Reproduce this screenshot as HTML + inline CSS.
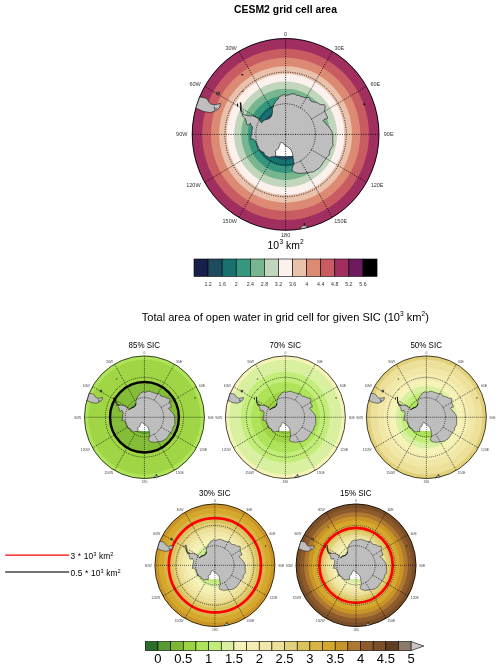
<!DOCTYPE html>
<html><head><meta charset="utf-8"><style>
html,body{margin:0;padding:0;background:#fff;width:500px;height:669px;overflow:hidden}
svg{position:absolute;left:0;top:0;will-change:transform}
svg text{font-family:"Liberation Sans",sans-serif}
</style></head><body>
<svg width="500" height="669" viewBox="0 0 500 669">
<rect width="500" height="669" fill="#fff"/>
<text transform="translate(285.50,13.30) scale(1,1.023)" font-size="10.4" text-anchor="middle" fill="#000" font-weight="bold">CESM2 grid cell area</text>
<clipPath id="ct"><ellipse cx="285.6" cy="134.4" rx="93.8" ry="96.3"/></clipPath>
<g clip-path="url(#ct)">
<ellipse cx="285.6" cy="134.4" rx="93.8" ry="96.3" fill="#6d1a5e"/>
<ellipse cx="285.6" cy="134.4" rx="92.98" ry="95.46" fill="#a02f60"/>
<ellipse cx="285.6" cy="134.4" rx="83.41" ry="85.63" fill="#c85c62"/>
<ellipse cx="285.6" cy="134.4" rx="74.64" ry="76.63" fill="#dc8a73"/>
<ellipse cx="285.6" cy="134.4" rx="66.48" ry="68.25" fill="#eac1ab"/>
<ellipse cx="285.6" cy="134.4" rx="58.80" ry="60.36" fill="#fcf1ed"/>
<ellipse cx="285.6" cy="134.4" rx="51.49" ry="52.87" fill="#c2d6bd"/>
<ellipse cx="285.6" cy="134.4" rx="44.50" ry="45.68" fill="#78b690"/>
<ellipse cx="285.6" cy="134.4" rx="37.74" ry="38.75" fill="#36977f"/>
<ellipse cx="285.6" cy="134.4" rx="31.18" ry="32.01" fill="#16716f"/>
<ellipse cx="285.6" cy="134.4" rx="24.77" ry="25.43" fill="#1f4b5e"/>
<ellipse cx="285.6" cy="134.4" rx="18.48" ry="18.98" fill="#17204a"/>

<polygon points="275.20,140.00 294.50,140.00 294.50,155.80 290.00,156.10 285.60,156.20 280.00,156.00 275.20,155.50" fill="#fff"/><g fill="#bebebe" stroke="#111" stroke-width="0.6" stroke-linejoin="round"><polygon points="242.40,114.00 244.50,114.80 246.40,115.40 247.95,115.47 249.40,116.00 250.90,115.89 252.40,115.70 254.80,116.60 257.20,117.80 258.38,118.82 259.40,120.00 260.60,121.60 261.60,123.00 262.80,121.20 264.80,120.00 267.40,119.20 268.74,118.68 270.00,118.00 271.60,116.00 272.20,113.60 272.46,112.11 272.50,110.60 272.41,108.74 273.10,107.00 273.80,104.80 275.00,102.80 275.44,101.36 276.60,100.40 278.20,99.20 278.60,97.60 279.80,96.40 281.80,95.60 283.80,94.40 285.40,95.60 287.00,95.20 289.09,94.89 291.00,94.00 292.50,93.78 294.00,94.00 295.48,94.24 296.66,95.36 298.20,95.40 299.61,95.84 300.90,96.62 302.40,96.80 303.91,97.28 305.40,97.80 307.02,97.72 308.60,97.40 309.60,98.44 309.96,99.86 310.80,101.00 312.31,101.77 314.00,101.90 315.79,102.37 317.60,102.80 319.04,103.89 320.70,104.60 322.50,104.75 324.30,104.60 325.13,106.04 325.20,107.70 324.72,109.47 324.70,111.30 325.23,112.67 326.06,113.89 326.50,115.30 327.36,116.79 327.40,118.50 325.60,118.90 324.07,119.53 322.90,120.70 324.70,122.00 325.87,123.59 327.00,125.20 327.98,126.25 329.20,127.00 329.82,128.54 331.00,129.70 331.53,131.14 332.40,132.40 332.16,133.90 332.76,135.32 332.80,136.80 332.53,138.60 332.85,140.40 332.80,142.20 332.71,143.92 333.40,145.50 332.18,146.54 331.50,148.00 330.00,150.00 329.50,152.00 329.61,153.56 329.00,155.00 327.50,156.50 326.00,158.00 325.53,159.42 324.50,160.50 323.00,162.50 322.00,164.50 320.50,166.50 319.43,167.93 318.00,169.00 316.27,169.65 315.00,171.00 313.52,171.55 312.00,172.00 309.99,172.14 308.00,172.50 306.02,172.93 304.00,173.00 302.50,173.24 301.00,173.50 299.48,173.35 298.00,173.00 296.48,172.88 295.00,172.50 293.79,171.68 292.50,171.00 292.00,169.00 292.57,167.52 293.00,166.00 294.00,163.50 293.50,161.00 293.61,159.44 293.00,158.00 293.00,156.00 292.50,154.00 292.16,152.45 291.50,151.00 290.55,149.25 289.00,148.00 287.67,146.82 286.00,146.20 284.20,144.60 283.51,143.29 282.20,142.60 281.00,142.30 280.20,143.60 279.60,145.40 278.86,146.84 278.40,148.40 277.37,149.45 276.00,150.00 275.20,151.60 275.90,153.20 275.30,155.40 275.20,156.80 273.80,156.80 272.20,156.40 270.60,157.20 268.60,157.20 266.60,156.00 264.60,154.80 263.80,152.40 261.80,151.60 259.80,150.40 257.80,149.60 258.20,147.60 257.00,145.20 256.20,142.80 255.40,140.80 253.80,139.60 252.60,138.80 250.20,139.20 250.91,137.89 251.00,136.40 251.40,134.00 252.01,132.45 251.80,130.80 252.60,128.40 252.20,126.40 251.00,125.20 250.30,123.20 249.40,124.40 248.20,125.00 247.00,124.70 246.40,123.80 246.56,122.35 246.00,121.00 245.50,119.00 244.54,117.96 243.50,117.00 242.20,115.20"/><polygon points="190.00,96.00 199.40,97.00 203.00,97.40 206.00,98.20 207.80,100.00 209.20,102.50 210.50,103.80 213.80,104.80 217.40,104.20 220.40,103.40 220.20,105.50 219.60,107.40 217.40,109.60 213.80,111.40 210.20,112.60 206.60,112.00 203.00,111.40 199.40,109.60 196.40,108.40 190.00,108.00"/><polygon points="216.60,92.60 218.30,92.00 219.60,92.60 219.40,94.30 217.60,95.00 216.50,94.20" fill="#666"/><polyline points="214.20,106.50 214.60,109.50 216.80,108.20" fill="none"/><polygon points="299.80,231.00 300.60,228.00 301.80,226.30 303.30,225.40 305.50,225.40 306.80,226.20 307.50,228.00 308.00,231.00"/></g><polyline points="240.50,103.00 240.90,106.00 240.70,109.00 241.20,111.00" fill="none" stroke="#111" stroke-width="1.50" stroke-linecap="round" stroke-linejoin="round"/><polyline points="304.30,222.90 304.30,225.30" fill="none" stroke="#111" stroke-width="1.10"/><circle cx="242.30" cy="112.40" r="1.10" fill="#bebebe" stroke="#111" stroke-width="0.6"/><ellipse cx="242.20" cy="74.70" rx="1.40" ry="0.60" fill="#111"/><ellipse cx="242.80" cy="91.20" rx="0.70" ry="0.60" fill="#111"/><ellipse cx="364.30" cy="104.20" rx="1.00" ry="1.00" fill="#111"/><ellipse cx="237.50" cy="105.00" rx="0.70" ry="1.80" fill="#111"/>
<g stroke="#000" stroke-width="0.85" stroke-dasharray="1 1.35" fill="none"><ellipse cx="285.6" cy="134.4" rx="29.81" ry="30.61" fill="none"/><ellipse cx="285.6" cy="134.4" rx="60.68" ry="62.30" fill="none"/><line x1="285.60" y1="134.40" x2="285.60" y2="38.10"/><line x1="300.51" y1="107.89" x2="332.50" y2="51.00"/><line x1="311.42" y1="119.10" x2="366.83" y2="86.25"/><line x1="285.60" y1="134.40" x2="379.40" y2="134.40"/><line x1="311.42" y1="149.70" x2="366.83" y2="182.55"/><line x1="300.51" y1="160.91" x2="332.50" y2="217.80"/><line x1="285.60" y1="134.40" x2="285.60" y2="230.70"/><line x1="270.69" y1="160.91" x2="238.70" y2="217.80"/><line x1="259.78" y1="149.70" x2="204.37" y2="182.55"/><line x1="285.60" y1="134.40" x2="191.80" y2="134.40"/><line x1="259.78" y1="119.10" x2="204.37" y2="86.25"/><line x1="270.69" y1="107.89" x2="238.70" y2="51.00"/></g>
</g>
<ellipse cx="285.6" cy="134.4" rx="93.40" ry="95.90" fill="none" stroke="#000" stroke-width="0.8"/>
<text transform="translate(285.60,36.20) scale(1,1.023)" font-size="5.5" text-anchor="middle" fill="#333">0</text><text transform="translate(334.40,49.80) scale(1,1.023)" font-size="5.5" text-anchor="start" fill="#333">30E</text><text transform="translate(370.43,86.45) scale(1,1.023)" font-size="5.5" text-anchor="start" fill="#333">60E</text><text transform="translate(383.80,136.41) scale(1,1.023)" font-size="5.5" text-anchor="start" fill="#333">90E</text><text transform="translate(370.63,186.88) scale(1,1.023)" font-size="5.5" text-anchor="start" fill="#333">120E</text><text transform="translate(334.30,222.83) scale(1,1.023)" font-size="5.5" text-anchor="start" fill="#333">150E</text><text transform="translate(285.60,237.13) scale(1,1.023)" font-size="5.5" text-anchor="middle" fill="#333">180</text><text transform="translate(236.90,222.83) scale(1,1.023)" font-size="5.5" text-anchor="end" fill="#333">150W</text><text transform="translate(200.57,186.88) scale(1,1.023)" font-size="5.5" text-anchor="end" fill="#333">120W</text><text transform="translate(187.40,136.41) scale(1,1.023)" font-size="5.5" text-anchor="end" fill="#333">90W</text><text transform="translate(200.77,86.45) scale(1,1.023)" font-size="5.5" text-anchor="end" fill="#333">60W</text><text transform="translate(236.80,49.80) scale(1,1.023)" font-size="5.5" text-anchor="end" fill="#333">30W</text>
<text transform="translate(285.60,248.80) scale(1,1.023)" font-size="10.4" text-anchor="middle" fill="#000">10<tspan font-size="6.6" dy="-4.8" dx="0.4">3</tspan><tspan dy="4.8"> km</tspan><tspan font-size="6.6" dy="-4.8">2</tspan></text>
<rect x="194.00" y="259.0" width="14.08" height="17.4" fill="#17204a" stroke="#000" stroke-width="0.6"/><rect x="208.08" y="259.0" width="14.08" height="17.4" fill="#1f4b5e" stroke="#000" stroke-width="0.6"/><rect x="222.16" y="259.0" width="14.08" height="17.4" fill="#16716f" stroke="#000" stroke-width="0.6"/><rect x="236.24" y="259.0" width="14.08" height="17.4" fill="#36977f" stroke="#000" stroke-width="0.6"/><rect x="250.32" y="259.0" width="14.08" height="17.4" fill="#78b690" stroke="#000" stroke-width="0.6"/><rect x="264.40" y="259.0" width="14.08" height="17.4" fill="#c2d6bd" stroke="#000" stroke-width="0.6"/><rect x="278.48" y="259.0" width="14.08" height="17.4" fill="#fcf1ed" stroke="#000" stroke-width="0.6"/><rect x="292.56" y="259.0" width="14.08" height="17.4" fill="#eac1ab" stroke="#000" stroke-width="0.6"/><rect x="306.64" y="259.0" width="14.08" height="17.4" fill="#dc8a73" stroke="#000" stroke-width="0.6"/><rect x="320.72" y="259.0" width="14.08" height="17.4" fill="#c85c62" stroke="#000" stroke-width="0.6"/><rect x="334.80" y="259.0" width="14.08" height="17.4" fill="#a02f60" stroke="#000" stroke-width="0.6"/><rect x="348.88" y="259.0" width="14.08" height="17.4" fill="#6d1a5e" stroke="#000" stroke-width="0.6"/><rect x="362.96" y="259.0" width="14.08" height="17.4" fill="#000000" stroke="#000" stroke-width="0.6"/><text transform="translate(208.08,285.60) scale(1,1.023)" font-size="5.3" text-anchor="middle" fill="#333">1.2</text><text transform="translate(222.16,285.60) scale(1,1.023)" font-size="5.3" text-anchor="middle" fill="#333">1.6</text><text transform="translate(236.24,285.60) scale(1,1.023)" font-size="5.3" text-anchor="middle" fill="#333">2</text><text transform="translate(250.32,285.60) scale(1,1.023)" font-size="5.3" text-anchor="middle" fill="#333">2.4</text><text transform="translate(264.40,285.60) scale(1,1.023)" font-size="5.3" text-anchor="middle" fill="#333">2.8</text><text transform="translate(278.48,285.60) scale(1,1.023)" font-size="5.3" text-anchor="middle" fill="#333">3.2</text><text transform="translate(292.56,285.60) scale(1,1.023)" font-size="5.3" text-anchor="middle" fill="#333">3.6</text><text transform="translate(306.64,285.60) scale(1,1.023)" font-size="5.3" text-anchor="middle" fill="#333">4</text><text transform="translate(320.72,285.60) scale(1,1.023)" font-size="5.3" text-anchor="middle" fill="#333">4.4</text><text transform="translate(334.80,285.60) scale(1,1.023)" font-size="5.3" text-anchor="middle" fill="#333">4.8</text><text transform="translate(348.88,285.60) scale(1,1.023)" font-size="5.3" text-anchor="middle" fill="#333">5.2</text><text transform="translate(362.96,285.60) scale(1,1.023)" font-size="5.3" text-anchor="middle" fill="#333">5.6</text>
<text transform="translate(285.30,321.20) scale(1,1.023)" font-size="11.1" text-anchor="middle" fill="#000">Total area of open water in grid cell for given SIC (10<tspan font-size="6.6" dy="-5.4">3</tspan><tspan dy="5.4"> km</tspan><tspan font-size="6.6" dy="-5.4">2</tspan><tspan dy="5.4">)</tspan></text>
<clipPath id="cs0"><ellipse cx="144.45" cy="417.25" rx="60.35" ry="61.7"/></clipPath>
<g clip-path="url(#cs0)">
<ellipse cx="144.45" cy="417.25" rx="60.35" ry="61.7" fill="#aee35a"/>
<ellipse cx="144.45" cy="417.25" rx="56.15" ry="57.41" fill="#a0d546"/>
<ellipse cx="144.45" cy="417.25" rx="34.41" ry="35.18" fill="#84bd38"/>
<ellipse cx="144.45" cy="417.25" rx="16.51" ry="16.88" fill="#569a31"/>
<ellipse cx="144.45" cy="417.25" rx="34.41" ry="35.18" fill="none" stroke="#000" stroke-width="2.4"/>
<polygon points="137.76,420.84 150.18,420.84 150.18,430.96 147.28,431.15 144.45,431.22 140.85,431.09 137.76,430.77" fill="#fff"/><g fill="#bebebe" stroke="#111" stroke-width="0.5" stroke-linejoin="round"><polygon points="116.66,404.18 118.01,404.69 119.23,405.08 120.22,405.12 121.16,405.46 122.13,405.39 123.09,405.27 124.63,405.85 126.18,406.61 126.94,407.27 127.59,408.02 128.37,409.05 129.01,409.95 129.78,408.79 131.07,408.02 132.74,407.51 133.60,407.18 134.41,406.74 135.44,405.46 135.83,403.92 136.00,402.97 136.02,402.00 135.97,400.81 136.41,399.69 136.86,398.29 137.63,397.00 137.91,396.08 138.66,395.47 139.69,394.70 139.95,393.67 140.72,392.90 142.01,392.39 143.29,391.62 144.32,392.39 145.35,392.13 146.69,391.94 147.92,391.37 148.89,391.23 149.85,391.37 150.80,391.52 151.57,392.23 152.56,392.26 153.46,392.55 154.30,393.04 155.26,393.16 156.23,393.47 157.19,393.80 158.23,393.75 159.25,393.54 159.89,394.21 160.12,395.12 160.66,395.85 161.64,396.34 162.72,396.43 163.88,396.73 165.04,397.00 165.97,397.70 167.03,398.16 168.19,398.26 169.35,398.16 169.88,399.08 169.93,400.14 169.62,401.28 169.61,402.45 169.94,403.33 170.48,404.11 170.76,405.01 171.32,405.96 171.34,407.06 170.19,407.32 169.20,407.72 168.45,408.47 169.61,409.31 170.36,410.32 171.09,411.36 171.71,412.03 172.50,412.51 172.90,413.49 173.66,414.24 174.00,415.16 174.56,415.97 174.40,416.93 174.79,417.84 174.82,418.79 174.64,419.94 174.85,421.09 174.82,422.25 174.76,423.35 175.20,424.36 174.42,425.03 173.98,425.96 173.02,427.25 172.69,428.53 172.76,429.53 172.37,430.45 171.41,431.41 170.44,432.37 170.14,433.28 169.48,433.97 168.51,435.25 167.87,436.54 166.90,437.82 166.22,438.73 165.30,439.42 164.18,439.84 163.37,440.70 162.41,441.06 161.44,441.34 160.14,441.43 158.86,441.66 157.59,441.93 156.29,441.98 155.32,442.14 154.36,442.30 153.38,442.21 152.43,441.98 151.45,441.91 150.50,441.66 149.72,441.14 148.89,440.70 148.57,439.42 148.94,438.47 149.21,437.50 149.85,435.89 149.53,434.29 149.60,433.29 149.21,432.37 149.21,431.09 148.89,429.81 148.67,428.81 148.25,427.89 147.63,426.77 146.64,425.96 145.78,425.21 144.71,424.81 143.55,423.79 143.11,422.94 142.26,422.50 141.49,422.31 140.98,423.14 140.59,424.30 140.11,425.22 139.82,426.22 139.15,426.89 138.27,427.25 137.76,428.27 138.21,429.30 137.82,430.70 137.76,431.60 136.86,431.60 135.83,431.35 134.80,431.86 133.51,431.86 132.23,431.09 130.94,430.32 130.42,428.78 129.14,428.27 127.85,427.50 126.56,426.99 126.82,425.71 126.05,424.17 125.53,422.63 125.02,421.35 123.99,420.58 123.22,420.07 121.67,420.33 122.13,419.49 122.19,418.53 122.45,416.99 122.84,416.00 122.70,414.94 123.22,413.41 122.96,412.12 122.19,411.36 121.74,410.07 121.16,410.84 120.39,411.23 119.62,411.04 119.23,410.46 119.33,409.53 118.97,408.66 118.65,407.38 118.03,406.71 117.36,406.10 116.53,404.95"/><polygon points="82.94,392.65 88.99,393.29 91.31,393.54 93.24,394.06 94.39,395.21 95.29,396.81 96.13,397.64 98.25,398.29 100.57,397.90 102.50,397.39 102.37,398.73 101.99,399.95 100.57,401.36 98.25,402.51 95.94,403.28 93.62,402.90 91.31,402.51 88.99,401.36 87.06,400.59 82.94,400.34"/><polygon points="100.06,390.47 101.15,390.08 101.99,390.47 101.86,391.56 100.70,392.01 99.99,391.49" fill="#666"/><polyline points="98.51,399.37 98.77,401.30 100.18,400.46" fill="none"/><polygon points="153.59,479.14 154.10,477.22 154.87,476.13 155.84,475.55 157.25,475.55 158.09,476.07 158.54,477.22 158.86,479.14"/></g><polyline points="115.43,397.13 115.69,399.05 115.56,400.98 115.88,402.26" fill="none" stroke="#111" stroke-width="0.97" stroke-linecap="round" stroke-linejoin="round"/><polyline points="156.48,473.95 156.48,475.49" fill="none" stroke="#111" stroke-width="0.71"/><polyline points="129.27,409.56 131.07,408.15 132.74,407.64 134.41,406.87 135.44,405.59 135.83,404.05" fill="none" stroke="#111" stroke-width="1.0" stroke-linecap="round" stroke-linejoin="round"/><polyline points="115.88,402.26 116.66,403.92 117.81,404.95 119.29,405.33" fill="none" stroke="#111" stroke-width="0.9" stroke-linecap="round" stroke-linejoin="round"/><circle cx="116.59" cy="403.15" r="0.71" fill="#bebebe" stroke="#111" stroke-width="0.5"/><ellipse cx="116.53" cy="379.00" rx="0.90" ry="0.45" fill="#111"/><ellipse cx="116.91" cy="389.57" rx="0.45" ry="0.45" fill="#111"/><ellipse cx="195.08" cy="397.90" rx="0.64" ry="0.64" fill="#111"/><ellipse cx="113.50" cy="398.41" rx="0.45" ry="1.15" fill="#111"/>
<g stroke="#000" stroke-width="0.7" stroke-dasharray="0.9 1.1" fill="none"><ellipse cx="144.45" cy="417.25" rx="19.18" ry="19.61" fill="none"/><ellipse cx="144.45" cy="417.25" rx="39.04" ry="39.91" fill="none"/><line x1="144.45" y1="417.25" x2="144.45" y2="355.55"/><line x1="154.04" y1="400.27" x2="174.62" y2="363.82"/><line x1="161.06" y1="407.44" x2="196.71" y2="386.40"/><line x1="144.45" y1="417.25" x2="204.80" y2="417.25"/><line x1="161.06" y1="427.06" x2="196.71" y2="448.10"/><line x1="154.04" y1="434.23" x2="174.62" y2="470.68"/><line x1="144.45" y1="417.25" x2="144.45" y2="478.95"/><line x1="134.86" y1="434.23" x2="114.27" y2="470.68"/><line x1="127.84" y1="427.06" x2="92.19" y2="448.10"/><line x1="144.45" y1="417.25" x2="84.10" y2="417.25"/><line x1="127.84" y1="407.44" x2="92.19" y2="386.40"/><line x1="134.86" y1="400.27" x2="114.27" y2="363.82"/></g>
</g>
<ellipse cx="144.45" cy="417.25" rx="60.00" ry="61.35" fill="none" stroke="#000" stroke-width="0.7"/>
<text transform="translate(144.45,354.30) scale(1,1.023)" font-size="3.4" text-anchor="middle" fill="#444">0</text><text transform="translate(175.88,363.02) scale(1,1.023)" font-size="3.4" text-anchor="start" fill="#444">30E</text><text transform="translate(199.09,386.53) scale(1,1.023)" font-size="3.4" text-anchor="start" fill="#444">60E</text><text transform="translate(207.70,418.50) scale(1,1.023)" font-size="3.4" text-anchor="start" fill="#444">90E</text><text transform="translate(199.22,450.79) scale(1,1.023)" font-size="3.4" text-anchor="start" fill="#444">120E</text><text transform="translate(175.81,473.83) scale(1,1.023)" font-size="3.4" text-anchor="start" fill="#444">150E</text><text transform="translate(144.45,483.02) scale(1,1.023)" font-size="3.4" text-anchor="middle" fill="#444">180</text><text transform="translate(113.09,473.83) scale(1,1.023)" font-size="3.4" text-anchor="end" fill="#444">150W</text><text transform="translate(89.68,450.79) scale(1,1.023)" font-size="3.4" text-anchor="end" fill="#444">120W</text><text transform="translate(81.20,418.50) scale(1,1.023)" font-size="3.4" text-anchor="end" fill="#444">90W</text><text transform="translate(89.81,386.53) scale(1,1.023)" font-size="3.4" text-anchor="end" fill="#444">60W</text><text transform="translate(113.02,363.02) scale(1,1.023)" font-size="3.4" text-anchor="end" fill="#444">30W</text>
<text transform="translate(144.25,347.75) scale(1,1.023)" font-size="8.0" text-anchor="middle" fill="#000">85% SIC</text>
<clipPath id="cs1"><ellipse cx="285.4" cy="417.25" rx="60.35" ry="61.7"/></clipPath>
<g clip-path="url(#cs1)">
<ellipse cx="285.4" cy="417.25" rx="60.35" ry="61.7" fill="#f6f3b8"/>
<ellipse cx="285.4" cy="417.25" rx="56.15" ry="57.41" fill="#d8f0a0"/>
<ellipse cx="285.4" cy="417.25" rx="44.55" ry="45.55" fill="#c1ed78"/>
<ellipse cx="285.4" cy="417.25" rx="34.41" ry="35.18" fill="#aee35a"/>
<ellipse cx="285.4" cy="417.25" rx="25.18" ry="25.74" fill="#a0d546"/>
<ellipse cx="285.4" cy="417.25" rx="16.51" ry="16.88" fill="#84bd38"/>
<ellipse cx="285.4" cy="417.25" rx="8.17" ry="8.36" fill="#569a31"/>

<polygon points="278.71,420.84 291.13,420.84 291.13,430.96 288.23,431.15 285.40,431.22 281.80,431.09 278.71,430.77" fill="#fff"/><g fill="#bebebe" stroke="#111" stroke-width="0.5" stroke-linejoin="round"><polygon points="257.61,404.18 258.96,404.69 260.18,405.08 261.17,405.12 262.11,405.46 263.08,405.39 264.04,405.27 265.58,405.85 267.13,406.61 267.89,407.27 268.54,408.02 269.32,409.05 269.96,409.95 270.73,408.79 272.02,408.02 273.69,407.51 274.55,407.18 275.36,406.74 276.39,405.46 276.78,403.92 276.95,402.97 276.97,402.00 276.92,400.81 277.36,399.69 277.81,398.29 278.58,397.00 278.86,396.08 279.61,395.47 280.64,394.70 280.90,393.67 281.67,392.90 282.96,392.39 284.24,391.62 285.27,392.39 286.30,392.13 287.64,391.94 288.87,391.37 289.84,391.23 290.80,391.37 291.75,391.52 292.52,392.23 293.51,392.26 294.41,392.55 295.25,393.04 296.21,393.16 297.18,393.47 298.14,393.80 299.18,393.75 300.20,393.54 300.84,394.21 301.07,395.12 301.61,395.85 302.59,396.34 303.67,396.43 304.83,396.73 305.99,397.00 306.92,397.70 307.98,398.16 309.14,398.26 310.30,398.16 310.83,399.08 310.88,400.14 310.57,401.28 310.56,402.45 310.89,403.33 311.43,404.11 311.71,405.01 312.27,405.96 312.29,407.06 311.14,407.32 310.15,407.72 309.40,408.47 310.56,409.31 311.31,410.32 312.04,411.36 312.66,412.03 313.45,412.51 313.85,413.49 314.61,414.24 314.95,415.16 315.51,415.97 315.35,416.93 315.74,417.84 315.77,418.79 315.59,419.94 315.80,421.09 315.77,422.25 315.71,423.35 316.15,424.36 315.37,425.03 314.93,425.96 313.97,427.25 313.64,428.53 313.71,429.53 313.32,430.45 312.36,431.41 311.39,432.37 311.09,433.28 310.43,433.97 309.46,435.25 308.82,436.54 307.85,437.82 307.17,438.73 306.25,439.42 305.13,439.84 304.32,440.70 303.36,441.06 302.39,441.34 301.09,441.43 299.81,441.66 298.54,441.93 297.24,441.98 296.27,442.14 295.31,442.30 294.33,442.21 293.38,441.98 292.40,441.91 291.45,441.66 290.67,441.14 289.84,440.70 289.52,439.42 289.89,438.47 290.16,437.50 290.80,435.89 290.48,434.29 290.55,433.29 290.16,432.37 290.16,431.09 289.84,429.81 289.62,428.81 289.20,427.89 288.58,426.77 287.59,425.96 286.73,425.21 285.66,424.81 284.50,423.79 284.06,422.94 283.21,422.50 282.44,422.31 281.93,423.14 281.54,424.30 281.06,425.22 280.77,426.22 280.10,426.89 279.22,427.25 278.71,428.27 279.16,429.30 278.77,430.70 278.71,431.60 277.81,431.60 276.78,431.35 275.75,431.86 274.46,431.86 273.18,431.09 271.89,430.32 271.37,428.78 270.09,428.27 268.80,427.50 267.51,426.99 267.77,425.71 267.00,424.17 266.48,422.63 265.97,421.35 264.94,420.58 264.17,420.07 262.62,420.33 263.08,419.49 263.14,418.53 263.40,416.99 263.79,416.00 263.65,414.94 264.17,413.41 263.91,412.12 263.14,411.36 262.69,410.07 262.11,410.84 261.34,411.23 260.57,411.04 260.18,410.46 260.28,409.53 259.92,408.66 259.60,407.38 258.98,406.71 258.31,406.10 257.48,404.95"/><polygon points="223.89,392.65 229.94,393.29 232.26,393.54 234.19,394.06 235.34,395.21 236.24,396.81 237.08,397.64 239.20,398.29 241.52,397.90 243.45,397.39 243.32,398.73 242.94,399.95 241.52,401.36 239.20,402.51 236.89,403.28 234.57,402.90 232.26,402.51 229.94,401.36 228.01,400.59 223.89,400.34"/><polygon points="241.01,390.47 242.10,390.08 242.94,390.47 242.81,391.56 241.65,392.01 240.94,391.49" fill="#666"/><polyline points="239.46,399.37 239.72,401.30 241.13,400.46" fill="none"/><polygon points="294.54,479.14 295.05,477.22 295.82,476.13 296.79,475.55 298.20,475.55 299.04,476.07 299.49,477.22 299.81,479.14"/></g><polyline points="256.38,397.13 256.64,399.05 256.51,400.98 256.83,402.26" fill="none" stroke="#111" stroke-width="0.97" stroke-linecap="round" stroke-linejoin="round"/><polyline points="297.43,473.95 297.43,475.49" fill="none" stroke="#111" stroke-width="0.71"/><polyline points="270.22,409.56 272.02,408.15 273.69,407.64 275.36,406.87 276.39,405.59 276.78,404.05" fill="none" stroke="#111" stroke-width="1.0" stroke-linecap="round" stroke-linejoin="round"/><polyline points="256.83,402.26 257.61,403.92 258.76,404.95 260.24,405.33" fill="none" stroke="#111" stroke-width="0.9" stroke-linecap="round" stroke-linejoin="round"/><circle cx="257.54" cy="403.15" r="0.71" fill="#bebebe" stroke="#111" stroke-width="0.5"/><ellipse cx="257.48" cy="379.00" rx="0.90" ry="0.45" fill="#111"/><ellipse cx="257.86" cy="389.57" rx="0.45" ry="0.45" fill="#111"/><ellipse cx="336.03" cy="397.90" rx="0.64" ry="0.64" fill="#111"/><ellipse cx="254.45" cy="398.41" rx="0.45" ry="1.15" fill="#111"/>
<g stroke="#000" stroke-width="0.7" stroke-dasharray="0.9 1.1" fill="none"><ellipse cx="285.4" cy="417.25" rx="19.18" ry="19.61" fill="none"/><ellipse cx="285.4" cy="417.25" rx="39.04" ry="39.91" fill="none"/><line x1="285.40" y1="417.25" x2="285.40" y2="355.55"/><line x1="294.99" y1="400.27" x2="315.57" y2="363.82"/><line x1="302.01" y1="407.44" x2="337.66" y2="386.40"/><line x1="285.40" y1="417.25" x2="345.75" y2="417.25"/><line x1="302.01" y1="427.06" x2="337.66" y2="448.10"/><line x1="294.99" y1="434.23" x2="315.57" y2="470.68"/><line x1="285.40" y1="417.25" x2="285.40" y2="478.95"/><line x1="275.81" y1="434.23" x2="255.22" y2="470.68"/><line x1="268.79" y1="427.06" x2="233.14" y2="448.10"/><line x1="285.40" y1="417.25" x2="225.05" y2="417.25"/><line x1="268.79" y1="407.44" x2="233.14" y2="386.40"/><line x1="275.81" y1="400.27" x2="255.22" y2="363.82"/></g>
</g>
<ellipse cx="285.4" cy="417.25" rx="60.00" ry="61.35" fill="none" stroke="#000" stroke-width="0.7"/>
<text transform="translate(285.40,354.30) scale(1,1.023)" font-size="3.4" text-anchor="middle" fill="#444">0</text><text transform="translate(316.83,363.02) scale(1,1.023)" font-size="3.4" text-anchor="start" fill="#444">30E</text><text transform="translate(340.04,386.53) scale(1,1.023)" font-size="3.4" text-anchor="start" fill="#444">60E</text><text transform="translate(348.65,418.50) scale(1,1.023)" font-size="3.4" text-anchor="start" fill="#444">90E</text><text transform="translate(340.17,450.79) scale(1,1.023)" font-size="3.4" text-anchor="start" fill="#444">120E</text><text transform="translate(316.76,473.83) scale(1,1.023)" font-size="3.4" text-anchor="start" fill="#444">150E</text><text transform="translate(285.40,483.02) scale(1,1.023)" font-size="3.4" text-anchor="middle" fill="#444">180</text><text transform="translate(254.04,473.83) scale(1,1.023)" font-size="3.4" text-anchor="end" fill="#444">150W</text><text transform="translate(230.63,450.79) scale(1,1.023)" font-size="3.4" text-anchor="end" fill="#444">120W</text><text transform="translate(222.15,418.50) scale(1,1.023)" font-size="3.4" text-anchor="end" fill="#444">90W</text><text transform="translate(230.76,386.53) scale(1,1.023)" font-size="3.4" text-anchor="end" fill="#444">60W</text><text transform="translate(253.97,363.02) scale(1,1.023)" font-size="3.4" text-anchor="end" fill="#444">30W</text>
<text transform="translate(285.20,347.75) scale(1,1.023)" font-size="8.0" text-anchor="middle" fill="#000">70% SIC</text>
<clipPath id="cs2"><ellipse cx="426.35" cy="417.25" rx="60.35" ry="61.7"/></clipPath>
<g clip-path="url(#cs2)">
<ellipse cx="426.35" cy="417.25" rx="60.35" ry="61.7" fill="#e2d07a"/>
<ellipse cx="426.35" cy="417.25" rx="56.15" ry="57.41" fill="#ece09a"/>
<ellipse cx="426.35" cy="417.25" rx="48.97" ry="50.07" fill="#f1e7a6"/>
<ellipse cx="426.35" cy="417.25" rx="42.43" ry="43.38" fill="#f5eeb3"/>
<ellipse cx="426.35" cy="417.25" rx="36.36" ry="37.17" fill="#f6f3b8"/>
<ellipse cx="426.35" cy="417.25" rx="30.63" ry="31.32" fill="#d8f0a0"/>
<ellipse cx="426.35" cy="417.25" rx="25.18" ry="25.74" fill="#c1ed78"/>
<ellipse cx="426.35" cy="417.25" rx="19.92" ry="20.37" fill="#aee35a"/>
<ellipse cx="426.35" cy="417.25" rx="14.82" ry="15.15" fill="#a0d546"/>
<ellipse cx="426.35" cy="417.25" rx="9.82" ry="10.04" fill="#84bd38"/>
<ellipse cx="426.35" cy="417.25" rx="4.89" ry="5.00" fill="#569a31"/>

<polygon points="419.66,420.84 432.08,420.84 432.08,430.96 429.18,431.15 426.35,431.22 422.75,431.09 419.66,430.77" fill="#fff"/><g fill="#bebebe" stroke="#111" stroke-width="0.5" stroke-linejoin="round"><polygon points="398.56,404.18 399.91,404.69 401.13,405.08 402.12,405.12 403.06,405.46 404.03,405.39 404.99,405.27 406.53,405.85 408.08,406.61 408.84,407.27 409.49,408.02 410.27,409.05 410.91,409.95 411.68,408.79 412.97,408.02 414.64,407.51 415.50,407.18 416.31,406.74 417.34,405.46 417.73,403.92 417.90,402.97 417.92,402.00 417.87,400.81 418.31,399.69 418.76,398.29 419.53,397.00 419.81,396.08 420.56,395.47 421.59,394.70 421.85,393.67 422.62,392.90 423.91,392.39 425.19,391.62 426.22,392.39 427.25,392.13 428.59,391.94 429.82,391.37 430.79,391.23 431.75,391.37 432.70,391.52 433.47,392.23 434.46,392.26 435.36,392.55 436.20,393.04 437.16,393.16 438.13,393.47 439.09,393.80 440.13,393.75 441.15,393.54 441.79,394.21 442.02,395.12 442.56,395.85 443.54,396.34 444.62,396.43 445.78,396.73 446.94,397.00 447.87,397.70 448.93,398.16 450.09,398.26 451.25,398.16 451.78,399.08 451.83,400.14 451.52,401.28 451.51,402.45 451.84,403.33 452.38,404.11 452.66,405.01 453.22,405.96 453.24,407.06 452.09,407.32 451.10,407.72 450.35,408.47 451.51,409.31 452.26,410.32 452.99,411.36 453.61,412.03 454.40,412.51 454.80,413.49 455.56,414.24 455.90,415.16 456.46,415.97 456.30,416.93 456.69,417.84 456.72,418.79 456.54,419.94 456.75,421.09 456.72,422.25 456.66,423.35 457.10,424.36 456.32,425.03 455.88,425.96 454.92,427.25 454.59,428.53 454.66,429.53 454.27,430.45 453.31,431.41 452.34,432.37 452.04,433.28 451.38,433.97 450.41,435.25 449.77,436.54 448.80,437.82 448.12,438.73 447.20,439.42 446.08,439.84 445.27,440.70 444.31,441.06 443.34,441.34 442.04,441.43 440.76,441.66 439.49,441.93 438.19,441.98 437.22,442.14 436.26,442.30 435.28,442.21 434.33,441.98 433.35,441.91 432.40,441.66 431.62,441.14 430.79,440.70 430.47,439.42 430.84,438.47 431.11,437.50 431.75,435.89 431.43,434.29 431.50,433.29 431.11,432.37 431.11,431.09 430.79,429.81 430.57,428.81 430.15,427.89 429.53,426.77 428.54,425.96 427.68,425.21 426.61,424.81 425.45,423.79 425.01,422.94 424.16,422.50 423.39,422.31 422.88,423.14 422.49,424.30 422.01,425.22 421.72,426.22 421.05,426.89 420.17,427.25 419.66,428.27 420.11,429.30 419.72,430.70 419.66,431.60 418.76,431.60 417.73,431.35 416.70,431.86 415.41,431.86 414.13,431.09 412.84,430.32 412.32,428.78 411.04,428.27 409.75,427.50 408.46,426.99 408.72,425.71 407.95,424.17 407.43,422.63 406.92,421.35 405.89,420.58 405.12,420.07 403.57,420.33 404.03,419.49 404.09,418.53 404.35,416.99 404.74,416.00 404.60,414.94 405.12,413.41 404.86,412.12 404.09,411.36 403.64,410.07 403.06,410.84 402.29,411.23 401.52,411.04 401.13,410.46 401.23,409.53 400.87,408.66 400.55,407.38 399.93,406.71 399.26,406.10 398.43,404.95"/><polygon points="364.84,392.65 370.89,393.29 373.21,393.54 375.14,394.06 376.29,395.21 377.19,396.81 378.03,397.64 380.15,398.29 382.47,397.90 384.40,397.39 384.27,398.73 383.89,399.95 382.47,401.36 380.15,402.51 377.84,403.28 375.52,402.90 373.21,402.51 370.89,401.36 368.96,400.59 364.84,400.34"/><polygon points="381.96,390.47 383.05,390.08 383.89,390.47 383.76,391.56 382.60,392.01 381.89,391.49" fill="#666"/><polyline points="380.41,399.37 380.67,401.30 382.08,400.46" fill="none"/><polygon points="435.49,479.14 436.00,477.22 436.77,476.13 437.74,475.55 439.15,475.55 439.99,476.07 440.44,477.22 440.76,479.14"/></g><polyline points="397.33,397.13 397.59,399.05 397.46,400.98 397.78,402.26" fill="none" stroke="#111" stroke-width="0.97" stroke-linecap="round" stroke-linejoin="round"/><polyline points="438.38,473.95 438.38,475.49" fill="none" stroke="#111" stroke-width="0.71"/><polyline points="411.17,409.56 412.97,408.15 414.64,407.64 416.31,406.87 417.34,405.59 417.73,404.05" fill="none" stroke="#111" stroke-width="1.0" stroke-linecap="round" stroke-linejoin="round"/><polyline points="397.78,402.26 398.56,403.92 399.71,404.95 401.19,405.33" fill="none" stroke="#111" stroke-width="0.9" stroke-linecap="round" stroke-linejoin="round"/><circle cx="398.49" cy="403.15" r="0.71" fill="#bebebe" stroke="#111" stroke-width="0.5"/><ellipse cx="398.43" cy="379.00" rx="0.90" ry="0.45" fill="#111"/><ellipse cx="398.81" cy="389.57" rx="0.45" ry="0.45" fill="#111"/><ellipse cx="476.98" cy="397.90" rx="0.64" ry="0.64" fill="#111"/><ellipse cx="395.40" cy="398.41" rx="0.45" ry="1.15" fill="#111"/>
<g stroke="#000" stroke-width="0.7" stroke-dasharray="0.9 1.1" fill="none"><ellipse cx="426.35" cy="417.25" rx="19.18" ry="19.61" fill="none"/><ellipse cx="426.35" cy="417.25" rx="39.04" ry="39.91" fill="none"/><line x1="426.35" y1="417.25" x2="426.35" y2="355.55"/><line x1="435.94" y1="400.27" x2="456.53" y2="363.82"/><line x1="442.96" y1="407.44" x2="478.61" y2="386.40"/><line x1="426.35" y1="417.25" x2="486.70" y2="417.25"/><line x1="442.96" y1="427.06" x2="478.61" y2="448.10"/><line x1="435.94" y1="434.23" x2="456.53" y2="470.68"/><line x1="426.35" y1="417.25" x2="426.35" y2="478.95"/><line x1="416.76" y1="434.23" x2="396.18" y2="470.68"/><line x1="409.74" y1="427.06" x2="374.09" y2="448.10"/><line x1="426.35" y1="417.25" x2="366.00" y2="417.25"/><line x1="409.74" y1="407.44" x2="374.09" y2="386.40"/><line x1="416.76" y1="400.27" x2="396.18" y2="363.82"/></g>
</g>
<ellipse cx="426.35" cy="417.25" rx="60.00" ry="61.35" fill="none" stroke="#000" stroke-width="0.7"/>
<text transform="translate(426.35,354.30) scale(1,1.023)" font-size="3.4" text-anchor="middle" fill="#444">0</text><text transform="translate(457.78,363.02) scale(1,1.023)" font-size="3.4" text-anchor="start" fill="#444">30E</text><text transform="translate(480.99,386.53) scale(1,1.023)" font-size="3.4" text-anchor="start" fill="#444">60E</text><text transform="translate(489.60,418.50) scale(1,1.023)" font-size="3.4" text-anchor="start" fill="#444">90E</text><text transform="translate(481.12,450.79) scale(1,1.023)" font-size="3.4" text-anchor="start" fill="#444">120E</text><text transform="translate(457.71,473.83) scale(1,1.023)" font-size="3.4" text-anchor="start" fill="#444">150E</text><text transform="translate(426.35,483.02) scale(1,1.023)" font-size="3.4" text-anchor="middle" fill="#444">180</text><text transform="translate(394.99,473.83) scale(1,1.023)" font-size="3.4" text-anchor="end" fill="#444">150W</text><text transform="translate(371.58,450.79) scale(1,1.023)" font-size="3.4" text-anchor="end" fill="#444">120W</text><text transform="translate(363.10,418.50) scale(1,1.023)" font-size="3.4" text-anchor="end" fill="#444">90W</text><text transform="translate(371.71,386.53) scale(1,1.023)" font-size="3.4" text-anchor="end" fill="#444">60W</text><text transform="translate(394.92,363.02) scale(1,1.023)" font-size="3.4" text-anchor="end" fill="#444">30W</text>
<text transform="translate(426.15,347.75) scale(1,1.023)" font-size="8.0" text-anchor="middle" fill="#000">50% SIC</text>
<clipPath id="cs3"><ellipse cx="214.9" cy="565.3" rx="60.35" ry="61.7"/></clipPath>
<g clip-path="url(#cs3)">
<ellipse cx="214.9" cy="565.3" rx="60.35" ry="61.7" fill="#ca9528"/>
<ellipse cx="214.9" cy="565.3" rx="56.15" ry="57.41" fill="#d5a82c"/>
<ellipse cx="214.9" cy="565.3" rx="50.95" ry="52.09" fill="#d8b444"/>
<ellipse cx="214.9" cy="565.3" rx="46.10" ry="47.13" fill="#dac35a"/>
<ellipse cx="214.9" cy="565.3" rx="41.54" ry="42.47" fill="#e2d07a"/>
<ellipse cx="214.9" cy="565.3" rx="37.20" ry="38.03" fill="#ece09a"/>
<ellipse cx="214.9" cy="565.3" rx="33.05" ry="33.79" fill="#f1e7a6"/>
<ellipse cx="214.9" cy="565.3" rx="29.05" ry="29.70" fill="#f5eeb3"/>
<ellipse cx="214.9" cy="565.3" rx="25.18" ry="25.74" fill="#f6f3b8"/>
<ellipse cx="214.9" cy="565.3" rx="21.41" ry="21.88" fill="#d8f0a0"/>
<ellipse cx="214.9" cy="565.3" rx="17.72" ry="18.12" fill="#c1ed78"/>
<ellipse cx="214.9" cy="565.3" rx="14.10" ry="14.42" fill="#aee35a"/>
<ellipse cx="214.9" cy="565.3" rx="10.53" ry="10.77" fill="#a0d546"/>
<ellipse cx="214.9" cy="565.3" rx="7.00" ry="7.16" fill="#84bd38"/>
<ellipse cx="214.9" cy="565.3" rx="3.49" ry="3.57" fill="#569a31"/>
<ellipse cx="214.9" cy="565.3" rx="46.10" ry="47.13" fill="none" stroke="#ff0000" stroke-width="2.7"/>
<polygon points="208.21,568.89 220.63,568.89 220.63,579.01 217.73,579.20 214.90,579.27 211.30,579.14 208.21,578.82" fill="#fff"/><g fill="#bebebe" stroke="#111" stroke-width="0.5" stroke-linejoin="round"><polygon points="187.11,552.23 188.46,552.74 189.68,553.13 190.67,553.17 191.61,553.51 192.58,553.44 193.54,553.32 195.08,553.90 196.63,554.66 197.39,555.32 198.04,556.07 198.82,557.10 199.46,558.00 200.23,556.84 201.52,556.07 203.19,555.56 204.05,555.23 204.86,554.79 205.89,553.51 206.28,551.97 206.45,551.02 206.47,550.05 206.42,548.86 206.86,547.74 207.31,546.34 208.08,545.05 208.36,544.13 209.11,543.52 210.14,542.75 210.40,541.72 211.17,540.95 212.46,540.44 213.74,539.67 214.77,540.44 215.80,540.18 217.14,539.99 218.37,539.42 219.34,539.28 220.30,539.42 221.25,539.57 222.02,540.28 223.01,540.31 223.91,540.60 224.75,541.09 225.71,541.21 226.68,541.52 227.64,541.85 228.68,541.80 229.70,541.59 230.34,542.26 230.57,543.17 231.11,543.90 232.09,544.39 233.17,544.48 234.33,544.78 235.49,545.05 236.42,545.75 237.48,546.21 238.64,546.31 239.80,546.21 240.33,547.13 240.38,548.19 240.07,549.33 240.06,550.50 240.39,551.38 240.93,552.16 241.21,553.06 241.77,554.01 241.79,555.11 240.64,555.37 239.65,555.77 238.90,556.52 240.06,557.36 240.81,558.37 241.54,559.41 242.16,560.08 242.95,560.56 243.35,561.54 244.11,562.29 244.45,563.21 245.01,564.02 244.85,564.98 245.24,565.89 245.27,566.84 245.09,567.99 245.30,569.14 245.27,570.30 245.21,571.40 245.65,572.41 244.87,573.08 244.43,574.01 243.47,575.30 243.14,576.58 243.21,577.58 242.82,578.50 241.86,579.46 240.89,580.42 240.59,581.33 239.93,582.02 238.96,583.30 238.32,584.59 237.35,585.87 236.67,586.78 235.75,587.47 234.63,587.89 233.82,588.75 232.86,589.11 231.89,589.39 230.59,589.48 229.31,589.71 228.04,589.98 226.74,590.03 225.77,590.19 224.81,590.35 223.83,590.26 222.88,590.03 221.90,589.96 220.95,589.71 220.17,589.19 219.34,588.75 219.02,587.47 219.39,586.52 219.66,585.55 220.30,583.94 219.98,582.34 220.05,581.34 219.66,580.42 219.66,579.14 219.34,577.86 219.12,576.86 218.70,575.94 218.08,574.82 217.09,574.01 216.23,573.26 215.16,572.86 214.00,571.84 213.56,570.99 212.71,570.55 211.94,570.36 211.43,571.19 211.04,572.35 210.56,573.27 210.27,574.27 209.60,574.94 208.72,575.30 208.21,576.32 208.66,577.35 208.27,578.75 208.21,579.65 207.31,579.65 206.28,579.40 205.25,579.91 203.96,579.91 202.68,579.14 201.39,578.37 200.87,576.83 199.59,576.32 198.30,575.55 197.01,575.04 197.27,573.76 196.50,572.22 195.98,570.68 195.47,569.40 194.44,568.63 193.67,568.12 192.12,568.38 192.58,567.54 192.64,566.58 192.90,565.04 193.29,564.05 193.15,562.99 193.67,561.46 193.41,560.17 192.64,559.41 192.19,558.12 191.61,558.89 190.84,559.28 190.07,559.09 189.68,558.51 189.78,557.58 189.42,556.71 189.10,555.43 188.48,554.76 187.81,554.15 186.98,553.00"/><polygon points="153.39,540.70 159.44,541.34 161.76,541.59 163.69,542.11 164.84,543.26 165.74,544.86 166.58,545.69 168.70,546.34 171.02,545.95 172.95,545.44 172.82,546.78 172.44,548.00 171.02,549.41 168.70,550.56 166.39,551.33 164.07,550.95 161.76,550.56 159.44,549.41 157.51,548.64 153.39,548.39"/><polygon points="170.51,538.52 171.60,538.13 172.44,538.52 172.31,539.61 171.15,540.06 170.44,539.54" fill="#666"/><polyline points="168.96,547.42 169.22,549.35 170.63,548.51" fill="none"/><polygon points="224.04,627.19 224.55,625.27 225.32,624.18 226.29,623.60 227.70,623.60 228.54,624.12 228.99,625.27 229.31,627.19"/></g><polyline points="185.88,545.18 186.14,547.10 186.01,549.03 186.33,550.31" fill="none" stroke="#111" stroke-width="0.97" stroke-linecap="round" stroke-linejoin="round"/><polyline points="226.93,622.00 226.93,623.54" fill="none" stroke="#111" stroke-width="0.71"/><polyline points="199.72,557.61 201.52,556.20 203.19,555.69 204.86,554.92 205.89,553.64 206.28,552.10" fill="none" stroke="#111" stroke-width="1.0" stroke-linecap="round" stroke-linejoin="round"/><polyline points="186.33,550.31 187.11,551.97 188.26,553.00 189.74,553.38" fill="none" stroke="#111" stroke-width="0.9" stroke-linecap="round" stroke-linejoin="round"/><circle cx="187.04" cy="551.20" r="0.71" fill="#bebebe" stroke="#111" stroke-width="0.5"/><ellipse cx="186.98" cy="527.05" rx="0.90" ry="0.45" fill="#111"/><ellipse cx="187.36" cy="537.62" rx="0.45" ry="0.45" fill="#111"/><ellipse cx="265.53" cy="545.95" rx="0.64" ry="0.64" fill="#111"/><ellipse cx="183.95" cy="546.46" rx="0.45" ry="1.15" fill="#111"/>
<g stroke="#000" stroke-width="0.7" stroke-dasharray="0.9 1.1" fill="none"><ellipse cx="214.9" cy="565.3" rx="19.18" ry="19.61" fill="none"/><ellipse cx="214.9" cy="565.3" rx="39.04" ry="39.91" fill="none"/><line x1="214.90" y1="565.30" x2="214.90" y2="503.60"/><line x1="224.49" y1="548.32" x2="245.07" y2="511.87"/><line x1="231.51" y1="555.49" x2="267.16" y2="534.45"/><line x1="214.90" y1="565.30" x2="275.25" y2="565.30"/><line x1="231.51" y1="575.11" x2="267.16" y2="596.15"/><line x1="224.49" y1="582.28" x2="245.07" y2="618.73"/><line x1="214.90" y1="565.30" x2="214.90" y2="627.00"/><line x1="205.31" y1="582.28" x2="184.72" y2="618.73"/><line x1="198.29" y1="575.11" x2="162.64" y2="596.15"/><line x1="214.90" y1="565.30" x2="154.55" y2="565.30"/><line x1="198.29" y1="555.49" x2="162.64" y2="534.45"/><line x1="205.31" y1="548.32" x2="184.72" y2="511.87"/></g>
</g>
<ellipse cx="214.9" cy="565.3" rx="60.00" ry="61.35" fill="none" stroke="#000" stroke-width="0.7"/>
<text transform="translate(214.90,502.35) scale(1,1.023)" font-size="3.4" text-anchor="middle" fill="#444">0</text><text transform="translate(246.33,511.07) scale(1,1.023)" font-size="3.4" text-anchor="start" fill="#444">30E</text><text transform="translate(269.54,534.58) scale(1,1.023)" font-size="3.4" text-anchor="start" fill="#444">60E</text><text transform="translate(278.15,566.55) scale(1,1.023)" font-size="3.4" text-anchor="start" fill="#444">90E</text><text transform="translate(269.67,598.84) scale(1,1.023)" font-size="3.4" text-anchor="start" fill="#444">120E</text><text transform="translate(246.26,621.88) scale(1,1.023)" font-size="3.4" text-anchor="start" fill="#444">150E</text><text transform="translate(214.90,631.07) scale(1,1.023)" font-size="3.4" text-anchor="middle" fill="#444">180</text><text transform="translate(183.54,621.88) scale(1,1.023)" font-size="3.4" text-anchor="end" fill="#444">150W</text><text transform="translate(160.13,598.84) scale(1,1.023)" font-size="3.4" text-anchor="end" fill="#444">120W</text><text transform="translate(151.65,566.55) scale(1,1.023)" font-size="3.4" text-anchor="end" fill="#444">90W</text><text transform="translate(160.26,534.58) scale(1,1.023)" font-size="3.4" text-anchor="end" fill="#444">60W</text><text transform="translate(183.47,511.07) scale(1,1.023)" font-size="3.4" text-anchor="end" fill="#444">30W</text>
<text transform="translate(214.70,495.80) scale(1,1.023)" font-size="8.0" text-anchor="middle" fill="#000">30% SIC</text>
<clipPath id="cs4"><ellipse cx="356.05" cy="565.3" rx="60.35" ry="61.7"/></clipPath>
<g clip-path="url(#cs4)">
<ellipse cx="356.05" cy="565.3" rx="60.35" ry="61.7" fill="#7a4f28"/>
<ellipse cx="356.05" cy="565.3" rx="56.15" ry="57.41" fill="#8d5a2c"/>
<ellipse cx="356.05" cy="565.3" rx="51.84" ry="53.00" fill="#ae7830"/>
<ellipse cx="356.05" cy="565.3" rx="47.78" ry="48.85" fill="#ca9528"/>
<ellipse cx="356.05" cy="565.3" rx="43.92" ry="44.91" fill="#d5a82c"/>
<ellipse cx="356.05" cy="565.3" rx="40.24" ry="41.14" fill="#d8b444"/>
<ellipse cx="356.05" cy="565.3" rx="36.70" ry="37.52" fill="#dac35a"/>
<ellipse cx="356.05" cy="565.3" rx="33.29" ry="34.03" fill="#e2d07a"/>
<ellipse cx="356.05" cy="565.3" rx="29.98" ry="30.65" fill="#ece09a"/>
<ellipse cx="356.05" cy="565.3" rx="26.76" ry="27.36" fill="#f1e7a6"/>
<ellipse cx="356.05" cy="565.3" rx="23.61" ry="24.14" fill="#f5eeb3"/>
<ellipse cx="356.05" cy="565.3" rx="20.53" ry="20.99" fill="#f6f3b8"/>
<ellipse cx="356.05" cy="565.3" rx="17.51" ry="17.90" fill="#d8f0a0"/>
<ellipse cx="356.05" cy="565.3" rx="14.52" ry="14.85" fill="#c1ed78"/>
<ellipse cx="356.05" cy="565.3" rx="11.58" ry="11.84" fill="#aee35a"/>
<ellipse cx="356.05" cy="565.3" rx="8.66" ry="8.85" fill="#a0d546"/>
<ellipse cx="356.05" cy="565.3" rx="5.76" ry="5.89" fill="#84bd38"/>
<ellipse cx="356.05" cy="565.3" rx="2.88" ry="2.94" fill="#569a31"/>
<ellipse cx="356.05" cy="565.3" rx="36.70" ry="37.52" fill="none" stroke="#ff0000" stroke-width="2.7"/>
<polygon points="349.36,568.89 361.78,568.89 361.78,579.01 358.88,579.20 356.05,579.27 352.45,579.14 349.36,578.82" fill="#fff"/><g fill="#bebebe" stroke="#111" stroke-width="0.5" stroke-linejoin="round"><polygon points="328.26,552.23 329.61,552.74 330.83,553.13 331.82,553.17 332.76,553.51 333.73,553.44 334.69,553.32 336.23,553.90 337.78,554.66 338.54,555.32 339.19,556.07 339.97,557.10 340.61,558.00 341.38,556.84 342.67,556.07 344.34,555.56 345.20,555.23 346.01,554.79 347.04,553.51 347.43,551.97 347.60,551.02 347.62,550.05 347.57,548.86 348.01,547.74 348.46,546.34 349.23,545.05 349.51,544.13 350.26,543.52 351.29,542.75 351.55,541.72 352.32,540.95 353.61,540.44 354.89,539.67 355.92,540.44 356.95,540.18 358.29,539.99 359.52,539.42 360.49,539.28 361.45,539.42 362.40,539.57 363.17,540.28 364.16,540.31 365.06,540.60 365.90,541.09 366.86,541.21 367.83,541.52 368.79,541.85 369.83,541.80 370.85,541.59 371.49,542.26 371.72,543.17 372.26,543.90 373.24,544.39 374.32,544.48 375.48,544.78 376.64,545.05 377.57,545.75 378.63,546.21 379.79,546.31 380.95,546.21 381.48,547.13 381.53,548.19 381.22,549.33 381.21,550.50 381.54,551.38 382.08,552.16 382.36,553.06 382.92,554.01 382.94,555.11 381.79,555.37 380.80,555.77 380.05,556.52 381.21,557.36 381.96,558.37 382.69,559.41 383.31,560.08 384.10,560.56 384.50,561.54 385.26,562.29 385.60,563.21 386.16,564.02 386.00,564.98 386.39,565.89 386.42,566.84 386.24,567.99 386.45,569.14 386.42,570.30 386.36,571.40 386.80,572.41 386.02,573.08 385.58,574.01 384.62,575.30 384.29,576.58 384.36,577.58 383.97,578.50 383.01,579.46 382.04,580.42 381.74,581.33 381.08,582.02 380.11,583.30 379.47,584.59 378.50,585.87 377.82,586.78 376.90,587.47 375.78,587.89 374.97,588.75 374.01,589.11 373.04,589.39 371.74,589.48 370.46,589.71 369.19,589.98 367.89,590.03 366.92,590.19 365.96,590.35 364.98,590.26 364.03,590.03 363.05,589.96 362.10,589.71 361.32,589.19 360.49,588.75 360.17,587.47 360.54,586.52 360.81,585.55 361.45,583.94 361.13,582.34 361.20,581.34 360.81,580.42 360.81,579.14 360.49,577.86 360.27,576.86 359.85,575.94 359.23,574.82 358.24,574.01 357.38,573.26 356.31,572.86 355.15,571.84 354.71,570.99 353.86,570.55 353.09,570.36 352.58,571.19 352.19,572.35 351.71,573.27 351.42,574.27 350.75,574.94 349.87,575.30 349.36,576.32 349.81,577.35 349.42,578.75 349.36,579.65 348.46,579.65 347.43,579.40 346.40,579.91 345.11,579.91 343.83,579.14 342.54,578.37 342.02,576.83 340.74,576.32 339.45,575.55 338.16,575.04 338.42,573.76 337.65,572.22 337.13,570.68 336.62,569.40 335.59,568.63 334.82,568.12 333.27,568.38 333.73,567.54 333.79,566.58 334.05,565.04 334.44,564.05 334.30,562.99 334.82,561.46 334.56,560.17 333.79,559.41 333.34,558.12 332.76,558.89 331.99,559.28 331.22,559.09 330.83,558.51 330.93,557.58 330.57,556.71 330.25,555.43 329.63,554.76 328.96,554.15 328.13,553.00"/><polygon points="294.54,540.70 300.59,541.34 302.91,541.59 304.84,542.11 305.99,543.26 306.89,544.86 307.73,545.69 309.85,546.34 312.17,545.95 314.10,545.44 313.97,546.78 313.59,548.00 312.17,549.41 309.85,550.56 307.54,551.33 305.22,550.95 302.91,550.56 300.59,549.41 298.66,548.64 294.54,548.39"/><polygon points="311.66,538.52 312.75,538.13 313.59,538.52 313.46,539.61 312.30,540.06 311.59,539.54" fill="#666"/><polyline points="310.11,547.42 310.37,549.35 311.78,548.51" fill="none"/><polygon points="365.19,627.19 365.70,625.27 366.47,624.18 367.44,623.60 368.85,623.60 369.69,624.12 370.14,625.27 370.46,627.19"/></g><polyline points="327.03,545.18 327.29,547.10 327.16,549.03 327.48,550.31" fill="none" stroke="#111" stroke-width="0.97" stroke-linecap="round" stroke-linejoin="round"/><polyline points="368.08,622.00 368.08,623.54" fill="none" stroke="#111" stroke-width="0.71"/><polyline points="340.87,557.61 342.67,556.20 344.34,555.69 346.01,554.92 347.04,553.64 347.43,552.10" fill="none" stroke="#111" stroke-width="1.0" stroke-linecap="round" stroke-linejoin="round"/><polyline points="327.48,550.31 328.26,551.97 329.41,553.00 330.89,553.38" fill="none" stroke="#111" stroke-width="0.9" stroke-linecap="round" stroke-linejoin="round"/><circle cx="328.19" cy="551.20" r="0.71" fill="#bebebe" stroke="#111" stroke-width="0.5"/><ellipse cx="328.13" cy="527.05" rx="0.90" ry="0.45" fill="#111"/><ellipse cx="328.51" cy="537.62" rx="0.45" ry="0.45" fill="#111"/><ellipse cx="406.68" cy="545.95" rx="0.64" ry="0.64" fill="#111"/><ellipse cx="325.10" cy="546.46" rx="0.45" ry="1.15" fill="#111"/>
<g stroke="#000" stroke-width="0.7" stroke-dasharray="0.9 1.1" fill="none"><ellipse cx="356.05" cy="565.3" rx="19.18" ry="19.61" fill="none"/><ellipse cx="356.05" cy="565.3" rx="39.04" ry="39.91" fill="none"/><line x1="356.05" y1="565.30" x2="356.05" y2="503.60"/><line x1="365.64" y1="548.32" x2="386.23" y2="511.87"/><line x1="372.66" y1="555.49" x2="408.31" y2="534.45"/><line x1="356.05" y1="565.30" x2="416.40" y2="565.30"/><line x1="372.66" y1="575.11" x2="408.31" y2="596.15"/><line x1="365.64" y1="582.28" x2="386.23" y2="618.73"/><line x1="356.05" y1="565.30" x2="356.05" y2="627.00"/><line x1="346.46" y1="582.28" x2="325.88" y2="618.73"/><line x1="339.44" y1="575.11" x2="303.79" y2="596.15"/><line x1="356.05" y1="565.30" x2="295.70" y2="565.30"/><line x1="339.44" y1="555.49" x2="303.79" y2="534.45"/><line x1="346.46" y1="548.32" x2="325.88" y2="511.87"/></g>
</g>
<ellipse cx="356.05" cy="565.3" rx="60.00" ry="61.35" fill="none" stroke="#000" stroke-width="0.7"/>
<text transform="translate(356.05,502.35) scale(1,1.023)" font-size="3.4" text-anchor="middle" fill="#444">0</text><text transform="translate(387.48,511.07) scale(1,1.023)" font-size="3.4" text-anchor="start" fill="#444">30E</text><text transform="translate(410.69,534.58) scale(1,1.023)" font-size="3.4" text-anchor="start" fill="#444">60E</text><text transform="translate(419.30,566.55) scale(1,1.023)" font-size="3.4" text-anchor="start" fill="#444">90E</text><text transform="translate(410.82,598.84) scale(1,1.023)" font-size="3.4" text-anchor="start" fill="#444">120E</text><text transform="translate(387.41,621.88) scale(1,1.023)" font-size="3.4" text-anchor="start" fill="#444">150E</text><text transform="translate(356.05,631.07) scale(1,1.023)" font-size="3.4" text-anchor="middle" fill="#444">180</text><text transform="translate(324.69,621.88) scale(1,1.023)" font-size="3.4" text-anchor="end" fill="#444">150W</text><text transform="translate(301.28,598.84) scale(1,1.023)" font-size="3.4" text-anchor="end" fill="#444">120W</text><text transform="translate(292.80,566.55) scale(1,1.023)" font-size="3.4" text-anchor="end" fill="#444">90W</text><text transform="translate(301.41,534.58) scale(1,1.023)" font-size="3.4" text-anchor="end" fill="#444">60W</text><text transform="translate(324.62,511.07) scale(1,1.023)" font-size="3.4" text-anchor="end" fill="#444">30W</text>
<text transform="translate(355.85,495.80) scale(1,1.023)" font-size="8.0" text-anchor="middle" fill="#000">15% SIC</text>
<line x1="5.2" y1="555.2" x2="69.1" y2="555.2" stroke="#ff0000" stroke-width="1.2"/>
<line x1="5.2" y1="572" x2="69.1" y2="572" stroke="#444" stroke-width="1.7"/>
<text transform="translate(70.60,559.30) scale(1,1.023)" font-size="8.4" text-anchor="start" fill="#000" letter-spacing="0.12">3 * 10<tspan font-size="5.6" dy="-3.1">3</tspan><tspan dy="3.1"> km</tspan><tspan font-size="5.6" dy="-3.1">2</tspan></text>
<text transform="translate(70.60,575.80) scale(1,1.023)" font-size="8.4" text-anchor="start" fill="#000" letter-spacing="0.12">0.5 * 10<tspan font-size="5.6" dy="-3.1">3</tspan><tspan dy="3.1"> km</tspan><tspan font-size="5.6" dy="-3.1">2</tspan></text>
<rect x="145.30" y="641.5" width="12.66" height="9.1" fill="#2c6d29" stroke="#000" stroke-width="0.6"/><rect x="157.96" y="641.5" width="12.66" height="9.1" fill="#569a31" stroke="#000" stroke-width="0.6"/><rect x="170.62" y="641.5" width="12.66" height="9.1" fill="#7cb732" stroke="#000" stroke-width="0.6"/><rect x="183.28" y="641.5" width="12.66" height="9.1" fill="#9dd242" stroke="#000" stroke-width="0.6"/><rect x="195.94" y="641.5" width="12.66" height="9.1" fill="#aee35a" stroke="#000" stroke-width="0.6"/><rect x="208.60" y="641.5" width="12.66" height="9.1" fill="#c1ed78" stroke="#000" stroke-width="0.6"/><rect x="221.26" y="641.5" width="12.66" height="9.1" fill="#d8f0a0" stroke="#000" stroke-width="0.6"/><rect x="233.92" y="641.5" width="12.66" height="9.1" fill="#f6f3b8" stroke="#000" stroke-width="0.6"/><rect x="246.58" y="641.5" width="12.66" height="9.1" fill="#f5eeb3" stroke="#000" stroke-width="0.6"/><rect x="259.24" y="641.5" width="12.66" height="9.1" fill="#f1e7a6" stroke="#000" stroke-width="0.6"/><rect x="271.90" y="641.5" width="12.66" height="9.1" fill="#ece09a" stroke="#000" stroke-width="0.6"/><rect x="284.56" y="641.5" width="12.66" height="9.1" fill="#e2d07a" stroke="#000" stroke-width="0.6"/><rect x="297.22" y="641.5" width="12.66" height="9.1" fill="#dac35a" stroke="#000" stroke-width="0.6"/><rect x="309.88" y="641.5" width="12.66" height="9.1" fill="#d8b444" stroke="#000" stroke-width="0.6"/><rect x="322.54" y="641.5" width="12.66" height="9.1" fill="#d5a82c" stroke="#000" stroke-width="0.6"/><rect x="335.20" y="641.5" width="12.66" height="9.1" fill="#ca9528" stroke="#000" stroke-width="0.6"/><rect x="347.86" y="641.5" width="12.66" height="9.1" fill="#ae7830" stroke="#000" stroke-width="0.6"/><rect x="360.52" y="641.5" width="12.66" height="9.1" fill="#8d5a2c" stroke="#000" stroke-width="0.6"/><rect x="373.18" y="641.5" width="12.66" height="9.1" fill="#7a4f28" stroke="#000" stroke-width="0.6"/><rect x="385.84" y="641.5" width="12.66" height="9.1" fill="#5f3e1f" stroke="#000" stroke-width="0.6"/><rect x="398.50" y="641.5" width="12.66" height="9.1" fill="#8c7b6c" stroke="#000" stroke-width="0.6"/><polygon points="411.16,641.5 423.96,646.05 411.16,650.6" fill="#cbc1c1" stroke="#000" stroke-width="0.6"/><text transform="translate(157.96,663.40) scale(1,1.023)" font-size="13" text-anchor="middle" fill="#000">0</text><text transform="translate(183.28,663.40) scale(1,1.023)" font-size="13" text-anchor="middle" fill="#000">0.5</text><text transform="translate(208.60,663.40) scale(1,1.023)" font-size="13" text-anchor="middle" fill="#000">1</text><text transform="translate(233.92,663.40) scale(1,1.023)" font-size="13" text-anchor="middle" fill="#000">1.5</text><text transform="translate(259.24,663.40) scale(1,1.023)" font-size="13" text-anchor="middle" fill="#000">2</text><text transform="translate(284.56,663.40) scale(1,1.023)" font-size="13" text-anchor="middle" fill="#000">2.5</text><text transform="translate(309.88,663.40) scale(1,1.023)" font-size="13" text-anchor="middle" fill="#000">3</text><text transform="translate(335.20,663.40) scale(1,1.023)" font-size="13" text-anchor="middle" fill="#000">3.5</text><text transform="translate(360.52,663.40) scale(1,1.023)" font-size="13" text-anchor="middle" fill="#000">4</text><text transform="translate(385.84,663.40) scale(1,1.023)" font-size="13" text-anchor="middle" fill="#000">4.5</text><text transform="translate(411.16,663.40) scale(1,1.023)" font-size="13" text-anchor="middle" fill="#000">5</text>
</svg>
</body></html>
